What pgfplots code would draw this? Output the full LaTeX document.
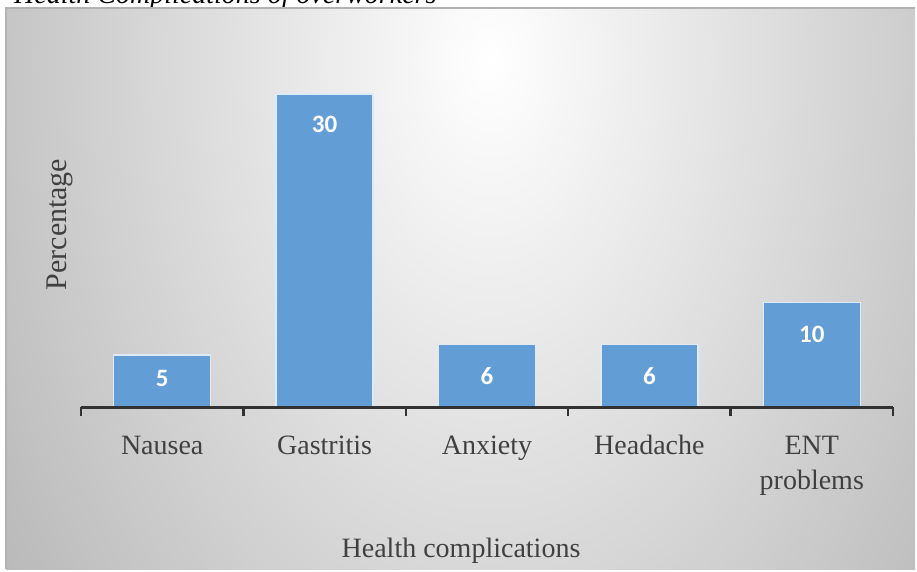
\documentclass[border=0pt]{standalone}
\usepackage{pgfplots}
\pgfplotsset{compat=1.18}
\usepackage{pgfplotstable}
\usepackage{fontspec}
\setmainfont{Liberation Serif}
\newfontfamily\labelfont{Carlito}

\definecolor{barblue}{RGB}{98,157,214}
\definecolor{baredge}{RGB}{222,235,247}
\definecolor{txt}{RGB}{64,64,64}
\definecolor{axisdark}{RGB}{50,50,50}

% category index, percentage, vertical offset of the value label
\pgfplotstableread{
x y dy
0 5 -24
1 30 -30
2 6 -32
3 6 -32
4 10 -32
}\complications

\begin{document}
\begin{tikzpicture}
\useasboundingbox (0pt,0pt) rectangle (917pt,571pt);
\begin{scope}
\clip (0pt,0pt) rectangle (917pt,571pt);
\fill[white] (0pt,0pt) rectangle (917pt,571pt);
% caption, partly hidden behind the chart frame
\node[anchor=base west, inner sep=0, font=\fontsize{28}{34}\selectfont\itshape, text=black]
  at (14pt,567pt) {Health Complications of overworkers};
% chart area with an elliptic radial gradient
\begin{scope}
  \clip (6pt,2pt) rectangle (915pt,563pt);
  \shade[inner color=white, outer color=black!40] (490pt,511pt) ellipse (860pt and 1330pt);
\end{scope}
\draw[black!30, line width=1.2pt] (6pt,2pt) -- (6pt,563pt) -- (915pt,563pt);
\end{scope}

\begin{axis}[
  at={(81pt,164pt)}, anchor=south west,
  scale only axis, width=812pt, height=365pt,
  xmin=-0.5, xmax=4.5, ymin=0, ymax=35,
  axis x line=bottom, axis y line=left,
  axis on top,
  x axis line style={-, line width=3pt, color=axisdark},
  y axis line style={draw=none},
  ytick=\empty,
  xtick={0,...,4},
  xticklabels={\strut Nausea, \strut Gastritis, \strut Anxiety, \strut Headache, \strut ENT\\problems},
  major tick length=0pt,
  minor xtick={-0.5,0.5,...,4.5},
  minor tick length=9pt,
  minor tick style={line width=2.5pt, color=axisdark},
  tick align=inside,
  xticklabel style={font=\fontsize{28}{35}\selectfont, text=txt, align=center,
    anchor=north, inner sep=0pt, yshift=-23pt},
  xlabel={Health complications},
  xlabel style={at={(axis description cs:0.468,-0.411)}, anchor=base,
    font=\fontsize{28}{34}\selectfont, text=txt, inner sep=0pt},
  ylabel={Percentage},
  ylabel style={at={(axis description cs:-0.0259,0.5)}, anchor=center,
    font=\fontsize{30}{36}\selectfont, text=txt},
  ybar, bar width=97pt,
  clip=false,
  nodes near coords={\labelfont\bfseries\fontsize{25}{30}\selectfont
    \pgfmathprintnumber[assume math mode=true]{\pgfplotspointmeta}},
  visualization depends on={\thisrow{dy} \as \lbldy},
  nodes near coords style={anchor=center, yshift=\lbldy pt, text=white},
]
\addplot[fill=barblue, draw=baredge, line width=1.5pt] table[x=x, y=y] {\complications};
\end{axis}
\end{tikzpicture}
\end{document}
